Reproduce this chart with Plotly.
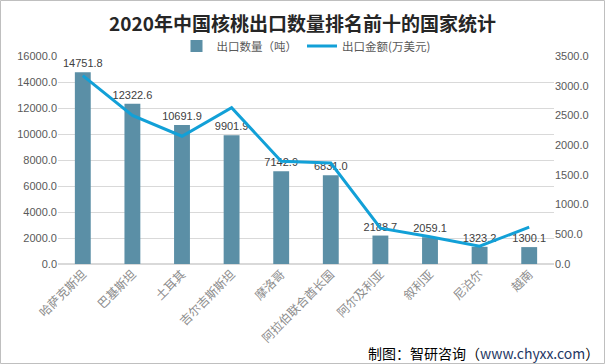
import plotly.graph_objects as go

countries = ["哈萨克斯坦", "巴基斯坦", "土耳其", "吉尔吉斯斯坦", "摩洛哥",
             "阿拉伯联合酋长国", "阿尔及利亚", "叙利亚", "尼泊尔", "越南"]
quantity_t = [14751.8, 12322.6, 10691.9, 9901.9, 7142.9, 6831.0, 2188.7, 2059.1, 1323.2, 1300.1]
value_10k_usd = [3170, 2500, 2150, 2630, 1730, 1700, 603, 460, 300, 620]

W, H = 605, 364
L, R, T, B = 58, 51, 56, 100
pw, ph = W - L - R, H - T - B

def px_x(x):
    return (x - L) / pw

def px_y(y):
    return (H - B - y) / ph

fig = go.Figure()
fig.add_trace(go.Bar(
    x=countries, y=quantity_t, name="出口数量（吨）",
    marker=dict(color="#5B8FA6", line=dict(width=0)),
    text=quantity_t, texttemplate="%{y:.1f}", textposition="outside",
    constraintext="none",
    textfont=dict(family="Liberation Sans, Arial", size=11, color="#404040"),
    cliponaxis=False, yaxis="y",
))
fig.add_trace(go.Scatter(
    x=countries, y=value_10k_usd, name="出口金额(万美元)", mode="lines",
    line=dict(color="#12A0D7", width=3), yaxis="y2",
))

fig.update_layout(
    width=W, height=H,
    margin=dict(l=L, r=R, t=T, b=B, autoexpand=False),
    paper_bgcolor="white", plot_bgcolor="white",
    bargap=0.68,
    showlegend=True,
    title=dict(text="<b>2020年中国核桃出口数量排名前十的国家统计</b>",
               x=0.5, xanchor="center", y=1 - 24 / H, yanchor="middle",
               font=dict(family="Noto Sans CJK SC", size=19, color="#262626")),
    legend=dict(orientation="h", x=0.5, xanchor="center", y=px_y(46), yanchor="middle",
                font=dict(family="Noto Sans CJK SC", size=11.5, color="#595959"),
                bgcolor="rgba(0,0,0,0)", itemwidth=30, traceorder="normal"),
    xaxis=dict(tickangle=-45, showgrid=False, showline=False, ticks="", automargin=False,
               tickfont=dict(family="Noto Sans CJK SC", size=12, color="#8c8c8c")),
    yaxis=dict(range=[0, 16000], dtick=2000, tickformat=".1f", automargin=False,
               showgrid=True, gridcolor="#d9d9d9", gridwidth=1, zeroline=True,
               zerolinecolor="#d9d9d9", showline=False, ticks="",
               tickfont=dict(family="Liberation Sans, Arial", size=11, color="#595959")),
    yaxis2=dict(range=[0, 3500], dtick=500, tickformat=".1f", overlaying="y", side="right",
                showgrid=False, zeroline=False, showline=False, ticks="", automargin=False,
                tickfont=dict(family="Liberation Sans, Arial", size=11, color="#595959")),
    shapes=[dict(type="rect", xref="paper", yref="paper",
                 x0=px_x(0.5), x1=px_x(W - 0.5), y0=px_y(H - 0.5), y1=px_y(0.5),
                 line=dict(color="#bfbfbf", width=1), fillcolor="rgba(0,0,0,0)", layer="below")],
    annotations=[dict(xref="paper", yref="paper", x=px_x(601), y=px_y(353),
                      xanchor="right", yanchor="middle", showarrow=False,
                      text="制图：智研咨询（<span style='color:#1F3864'>www.chyxx.com</span>）",
                      font=dict(family="Noto Sans CJK SC", size=14, color="#000000"))],
)

fig.write_html("out.html", config={"displayModeBar": False},
               post_script="document.body.style.margin='0';document.body.style.overflow='hidden';")
